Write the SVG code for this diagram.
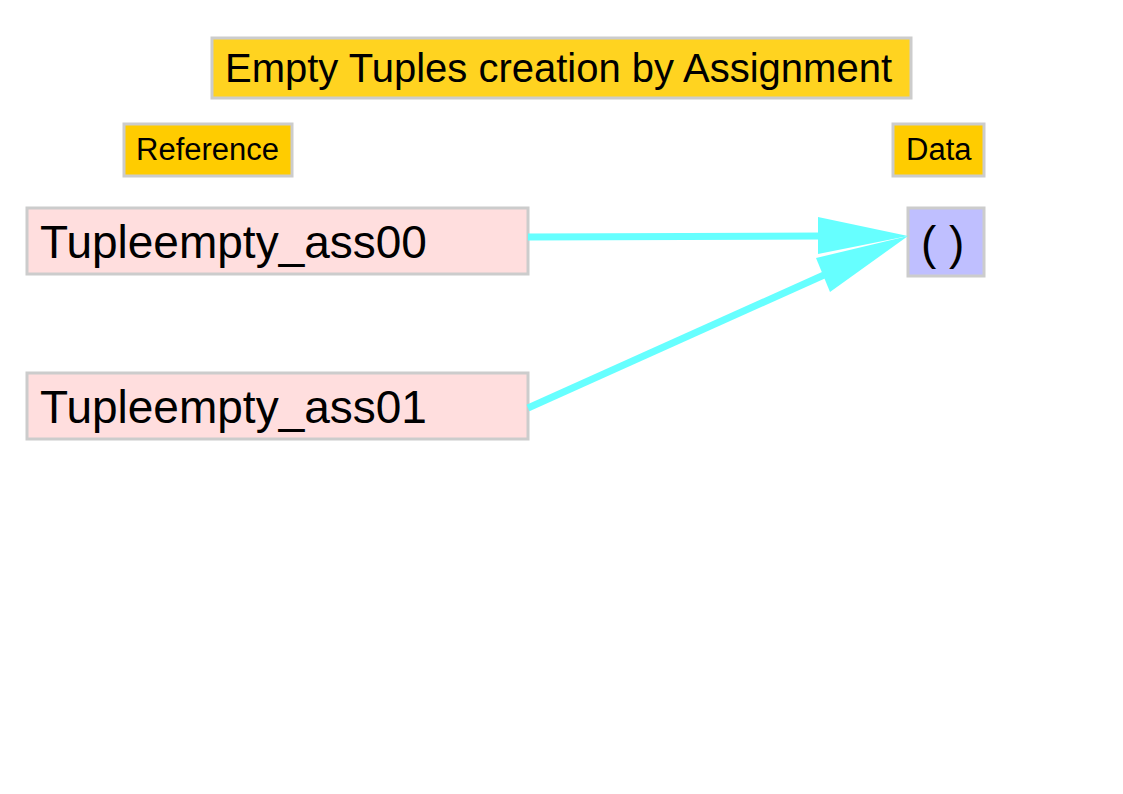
<svg xmlns="http://www.w3.org/2000/svg" width="1123" height="794" viewBox="0 0 1123 794">
<style>
text{font-family:"Liberation Sans",Arial,sans-serif;fill:#000}
.box{stroke:#cccccc;stroke-width:3}
.edge{stroke:#66ffff;stroke-width:7;fill:none}
.head{fill:#66ffff;stroke:none}
</style>
<rect width="1123" height="794" fill="#ffffff"/>
<g id="title"><rect class="box" x="212" y="38" width="699" height="60" fill="#ffd320"/><text x="225" y="82" font-size="40">Empty Tuples creation by Assignment</text></g>
<g id="label-reference"><rect class="box" x="124" y="124" width="168" height="52" fill="#ffcc00"/><text x="136" y="160" font-size="31">Reference</text></g>
<g id="label-data"><rect class="box" x="893" y="124" width="91" height="52" fill="#ffcc00"/><text x="906" y="160" font-size="31">Data</text></g>
<g id="ref0"><rect class="box" x="27" y="208" width="501" height="66" fill="#ffdede"/><text x="40" y="258" font-size="46">Tupleempty_ass00</text></g>
<g id="ref1"><rect class="box" x="27" y="373" width="501" height="66" fill="#ffdede"/><text x="40" y="423" font-size="46">Tupleempty_ass01</text></g>
<g id="data0"><rect class="box" x="908" y="208" width="76" height="68" fill="#bfbfff"/><text x="921" y="259" font-size="46">( )</text></g>
<g id="connectors">
<line class="edge" x1="528" y1="237" x2="822" y2="236"/>
<polygon class="head" points="818,217 908,236 818,254"/>
<line class="edge" x1="528" y1="408" x2="824" y2="275"/>
<polygon class="head" points="816,258 908,236 830,292"/>
</g>
</svg>
